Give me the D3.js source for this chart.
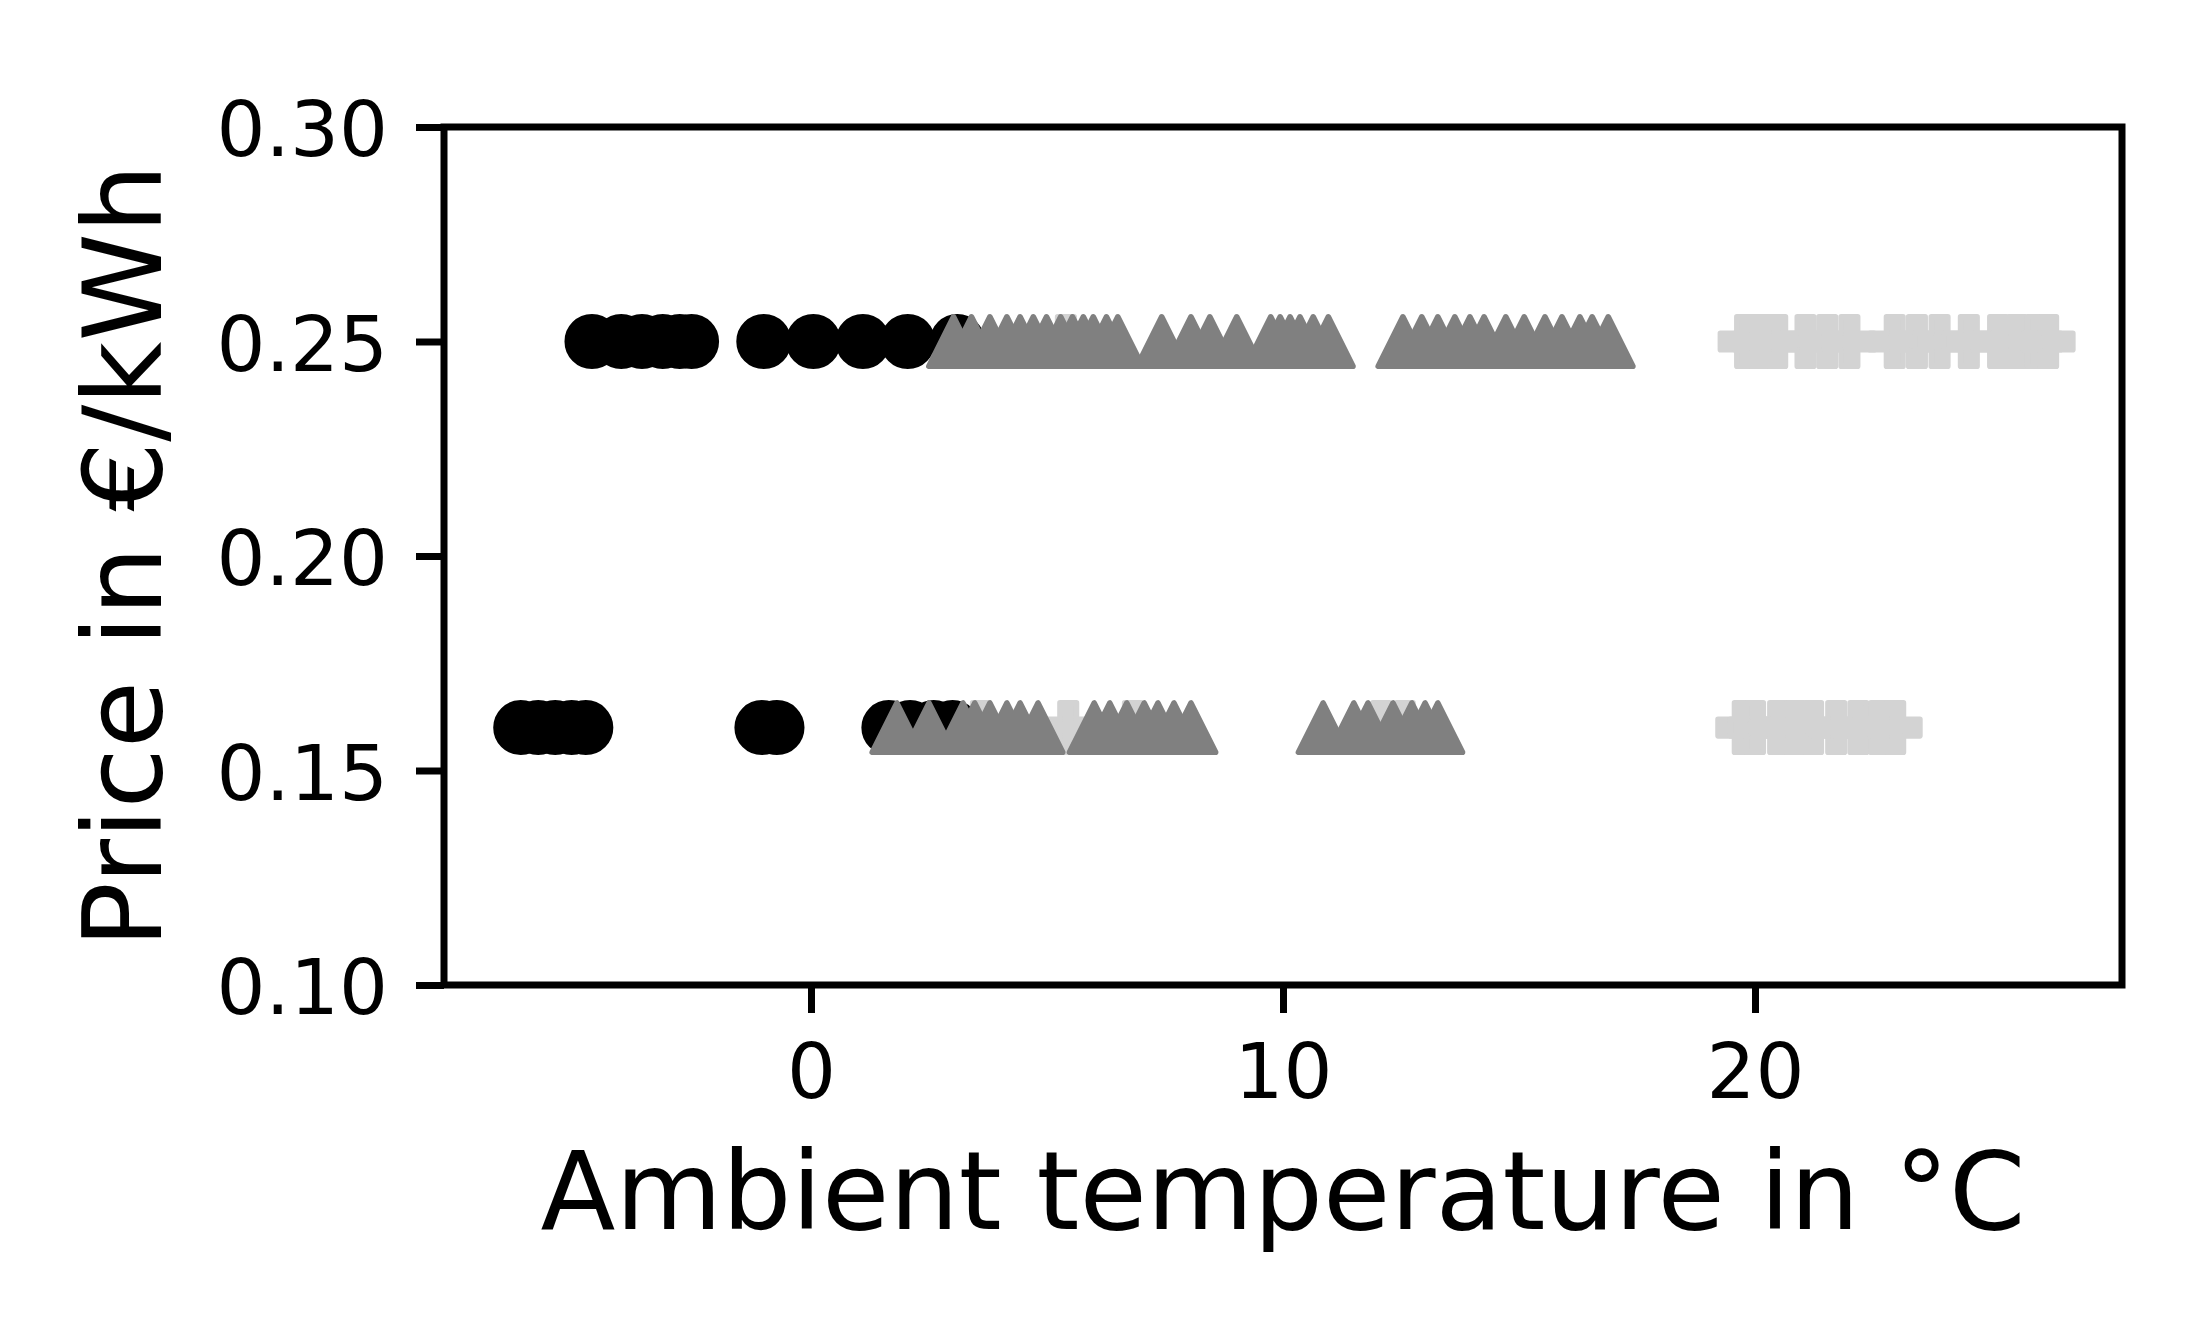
<!DOCTYPE html>
<html>
<head>
<meta charset="utf-8">
<script src="https://cdn.jsdelivr.net/npm/d3@7"></script>
<style>
  body { margin: 0; background: #fff; }
  svg { display: block; }
  text { font-family: "DejaVu Sans", sans-serif; fill: #000; }
</style>
</head>
<body>
<svg id="chart" width="2204" height="1326"></svg>
<script>
// price levels (EUR/kWh)
const priceHigh = 0.25;
const priceLow = 0.16;

// black circles: ambient temperatures at each price level
const circleHighT = [-4.64, -4.02, -3.58, -3.14, -2.78, -2.53, -1.0, 0.05, 1.1, 2.05, 3.1];
const circleLowT = [-6.15, -5.78, -5.42, -5.07, -4.77, -1.04, -0.72, 1.65, 2.1, 2.6, 3.0];

// grey triangles
const triangleHighT = [3.02, 3.4, 3.79, 4.15, 4.43, 4.71, 4.99, 5.29, 5.54, 5.77, 5.98, 6.26, 6.5,
  7.43, 8.05, 8.45, 9.02, 9.74, 9.94, 10.15, 10.36, 10.64, 10.96,
  12.54, 12.94, 13.28, 13.64, 13.96, 14.26, 14.72, 15.11, 15.55, 15.91, 16.29, 16.55, 16.89];
const triangleLowT = [1.82, 2.5, 3.22, 3.47, 3.79, 4.15, 4.43, 4.81, 6.0, 6.33, 6.69, 7.06, 7.35, 7.69, 8.05,
  10.85, 11.5, 11.8, 12.33, 12.73, 13.01, 13.28];

// light grey filled plus
const plusHighT = [5.4, 19.79, 20.1, 20.47, 21.07, 21.53, 22.0, 22.96, 23.43, 23.91, 24.53, 25.15, 25.55, 25.95, 26.21];
const plusLowT = [3.6, 5.45, 6.82, 12.08, 12.58, 19.74, 20.0, 20.49, 20.85, 21.23, 21.72, 22.19, 22.63, 22.97];

const xTicks = [0, 10, 20];
const yTicks = [0.10, 0.15, 0.20, 0.25, 0.30];

const plotLeft = 444, plotRight = 2122, plotTop = 127, plotBottom = 985;
const tickLen = 28, lineW = 7;

const svg = d3.select("#chart");

const x = d3.scaleLinear().domain([-7.775, 27.775]).range([plotLeft, plotRight]);
const y = d3.scaleLinear().domain([0.10, 0.30]).range([plotBottom, plotTop]);

// marker geometry: path half size, edge width
const ms = 24.7, ew = 5.6;

function toPoints(temps, price) {
  return temps.map(function (t) { return { t: t, p: price }; });
}

const circles = toPoints(circleHighT, priceHigh).concat(toPoints(circleLowT, priceLow));
const triangles = toPoints(triangleHighT, priceHigh).concat(toPoints(triangleLowT, priceLow));
const pluses = toPoints(plusHighT, priceHigh).concat(toPoints(plusLowT, priceLow));

const marks = svg.append("g");

marks.selectAll("circle.c")
  .data(circles)
  .enter()
  .append("circle")
  .attr("class", "c")
  .attr("cx", function (d) { return x(d.t); })
  .attr("cy", function (d) { return y(d.p); })
  .attr("r", ms)
  .attr("fill", "#000")
  .attr("stroke", "#000")
  .attr("stroke-width", ew);

const a = ms, b = ms / 3;
const plusPath = "M" + [[-b, -a], [b, -a], [b, -b], [a, -b], [a, b], [b, b], [b, a], [-b, a], [-b, b], [-a, b], [-a, -b], [-b, -b]]
  .map(function (p) { return p.join(","); }).join("L") + "Z";

marks.selectAll("path.p")
  .data(pluses)
  .enter()
  .append("path")
  .attr("class", "p")
  .attr("d", plusPath)
  .attr("transform", function (d) { return "translate(" + x(d.t) + "," + y(d.p) + ")"; })
  .attr("fill", "#d3d3d3")
  .attr("stroke", "#d3d3d3")
  .attr("stroke-width", ew)
  .attr("stroke-linejoin", "round");

const triPath = "M0," + (-ms) + "L" + (-ms) + "," + ms + "L" + ms + "," + ms + "Z";

marks.selectAll("path.t")
  .data(triangles)
  .enter()
  .append("path")
  .attr("class", "t")
  .attr("d", triPath)
  .attr("transform", function (d) { return "translate(" + x(d.t) + "," + y(d.p) + ")"; })
  .attr("fill", "#808080")
  .attr("stroke", "#808080")
  .attr("stroke-width", ew)
  .attr("stroke-linejoin", "round");

// axes
const xAxis = svg.append("g")
  .attr("transform", "translate(0," + plotBottom + ")")
  .call(d3.axisBottom(x).tickValues(xTicks).tickFormat(d3.format("d")).tickSizeInner(tickLen).tickSizeOuter(0).tickPadding(28));
const yAxis = svg.append("g")
  .attr("transform", "translate(" + plotLeft + ",0)")
  .call(d3.axisLeft(y).tickValues(yTicks).tickFormat(d3.format(".2f")).tickSizeInner(tickLen).tickSizeOuter(0).tickPadding(28));

[xAxis, yAxis].forEach(function (g) {
  g.select(".domain").remove();
  g.selectAll(".tick line").attr("stroke", "#000").attr("stroke-width", lineW);
  g.selectAll(".tick text")
    .attr("fill", "#000")
    .style("font-family", "DejaVu Sans")
    .style("font-size", "77px");
});
xAxis.selectAll(".tick text").attr("dy", "0.74em");
yAxis.selectAll(".tick text").attr("dy", "0.37em");

svg.append("rect")
  .attr("x", plotLeft)
  .attr("y", plotTop)
  .attr("width", plotRight - plotLeft)
  .attr("height", plotBottom - plotTop)
  .attr("fill", "none")
  .attr("stroke", "#000")
  .attr("stroke-width", lineW);

svg.append("text")
  .attr("x", (plotLeft + plotRight) / 2)
  .attr("y", 1229)
  .attr("text-anchor", "middle")
  .style("font-size", "109.5px")
  .text("Ambient temperature in °C");

svg.append("text")
  .attr("transform", "translate(161," + (plotTop + plotBottom) / 2 + ") rotate(-90)")
  .attr("text-anchor", "middle")
  .style("font-size", "109.5px")
  .text("Price in €/kWh");
</script>
</body>
</html>
